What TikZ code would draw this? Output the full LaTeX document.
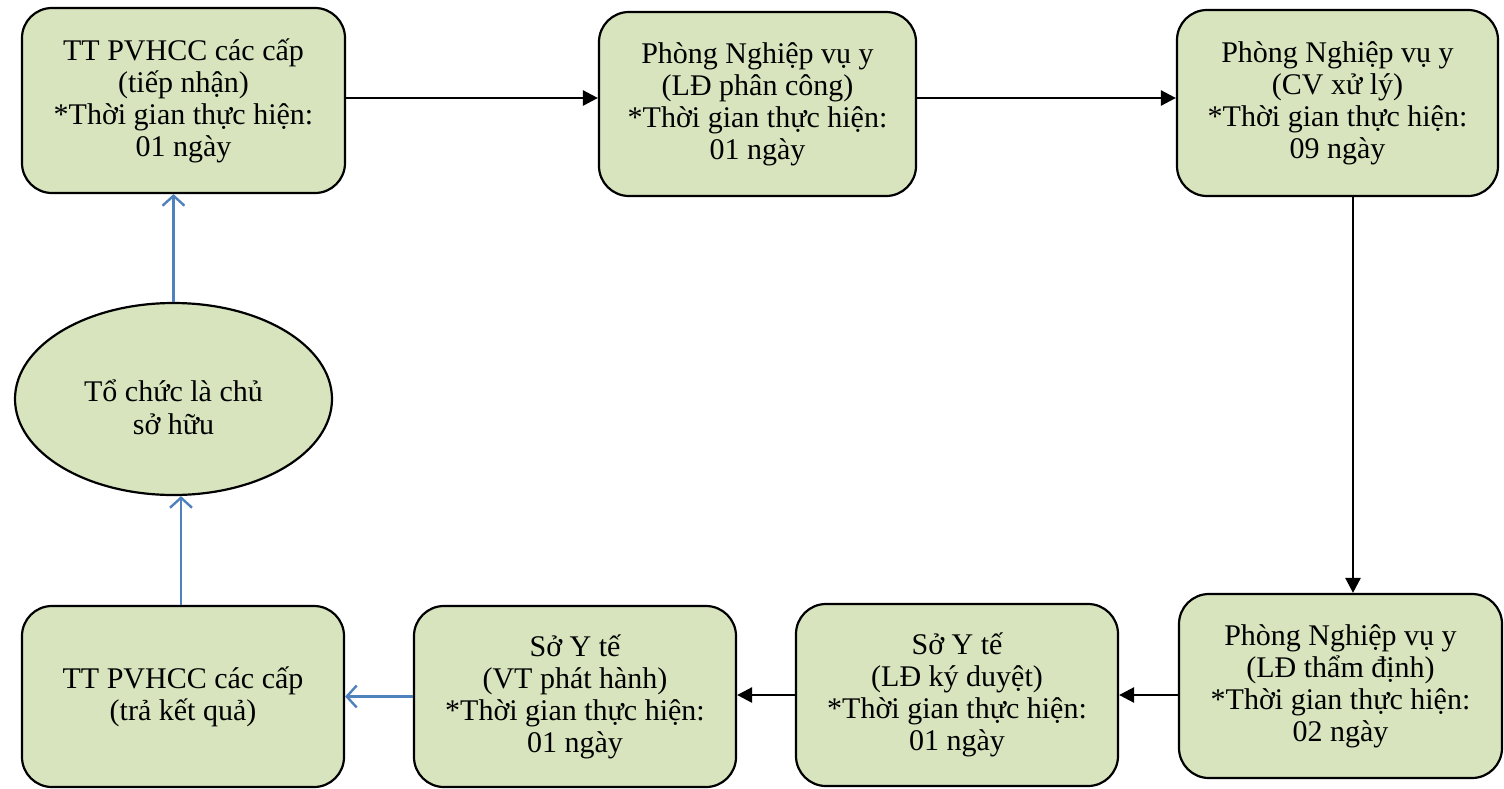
\documentclass[tikz,border=0pt]{standalone}
\usepackage{fontspec}
\setmainfont{Liberation Serif}
\usetikzlibrary{arrows.meta,calc,shapes.geometric}
\definecolor{boxfill}{HTML}{D7E4BD}
\definecolor{flowblue}{HTML}{4F81BD}
\tikzset{
  stepbox/.style={draw=black, line width=2.2pt, fill=boxfill, rounded corners=30pt,
    align=center, inner sep=0pt, font=\fontsize{30}{32}\selectfont},
  ownerell/.style={draw=black, line width=2.2pt, fill=boxfill, ellipse, inner sep=0pt},
  blackarr/.style={draw=black, line width=2.6pt, -{Triangle[length=15pt,width=15pt]}},
  bluearr/.style={draw=flowblue, line width=2.6pt, -{Straight Barb[length=10pt,width=22pt,line width=2.4pt]}}
}
\begin{document}
\begin{tikzpicture}[x=1pt,y=-1pt]
\useasboundingbox (0,0) rectangle (1504,788);
\node[stepbox, minimum width=323pt, minimum height=185pt] (b1) at (183.5,100.5)
  {TT PVHCC các cấp\\(tiếp nhận)\\*Thời gian thực hiện:\\01 ngày};
\node[stepbox, minimum width=317pt, minimum height=184pt] (b2) at (757.5,104)
  {Phòng Nghiệp vụ y\\(LĐ phân công)\\*Thời gian thực hiện:\\01 ngày};
\node[stepbox, minimum width=321pt, minimum height=186pt] (b3) at (1337.5,103)
  {Phòng Nghiệp vụ y\\(CV xử lý)\\*Thời gian thực hiện:\\09 ngày};
\node[stepbox, minimum width=323pt, minimum height=184pt] (b4) at (1340.5,686)
  {Phòng Nghiệp vụ y\\(LĐ thẩm định)\\*Thời gian thực hiện:\\02 ngày};
\node[stepbox, minimum width=322pt, minimum height=182pt] (b5) at (957,695)
  {Sở Y tế\\(LĐ ký duyệt)\\*Thời gian thực hiện:\\01 ngày};
\node[stepbox, minimum width=322pt, minimum height=181pt] (b6) at (575,696.5)
  {Sở Y tế\\(VT phát hành)\\*Thời gian thực hiện:\\01 ngày};
\node[stepbox, minimum width=322pt, minimum height=181pt] (b7) at (183,696.5)
  {TT PVHCC các cấp\\(trả kết quả)};
\node[ownerell, minimum width=317pt, minimum height=192pt] (e) at (173.5,399) {};
\node[align=center, inner sep=0pt, font=\fontsize{30}{33}\selectfont] (etext) at (173.5,407)
  {Tổ chức là chủ\\sở hữu};
% connector anchor points
\coordinate (p1) at ($(b1.east)+(0,-2.5)$);
\coordinate (p2) at ($(b2.east)+(0,-6)$);
\coordinate (p3) at ($(b3.south)+(15.5,0)$);
\coordinate (p7) at ($(b7.north)+(-2,0)$);
% black flow
\draw[blackarr] (p1) -- (p1 -| b2.west);
\draw[blackarr] (p2) -- (p2 -| b3.west);
\draw[blackarr] (p3) -- (p3 |- b4.north);
\draw[blackarr] (b4.west |- b5.east) -- (b5.east);
\draw[blackarr] (b5.west) -- (b5.west -| b6.east);
% blue flow
\draw[bluearr] (b6.west) -- (b6.west -| b7.east);
\draw[bluearr] (p7) -- (p7 |- e.south);
\draw[bluearr] (e.north) -- (e.north |- b1.south);
\end{tikzpicture}
\end{document}
